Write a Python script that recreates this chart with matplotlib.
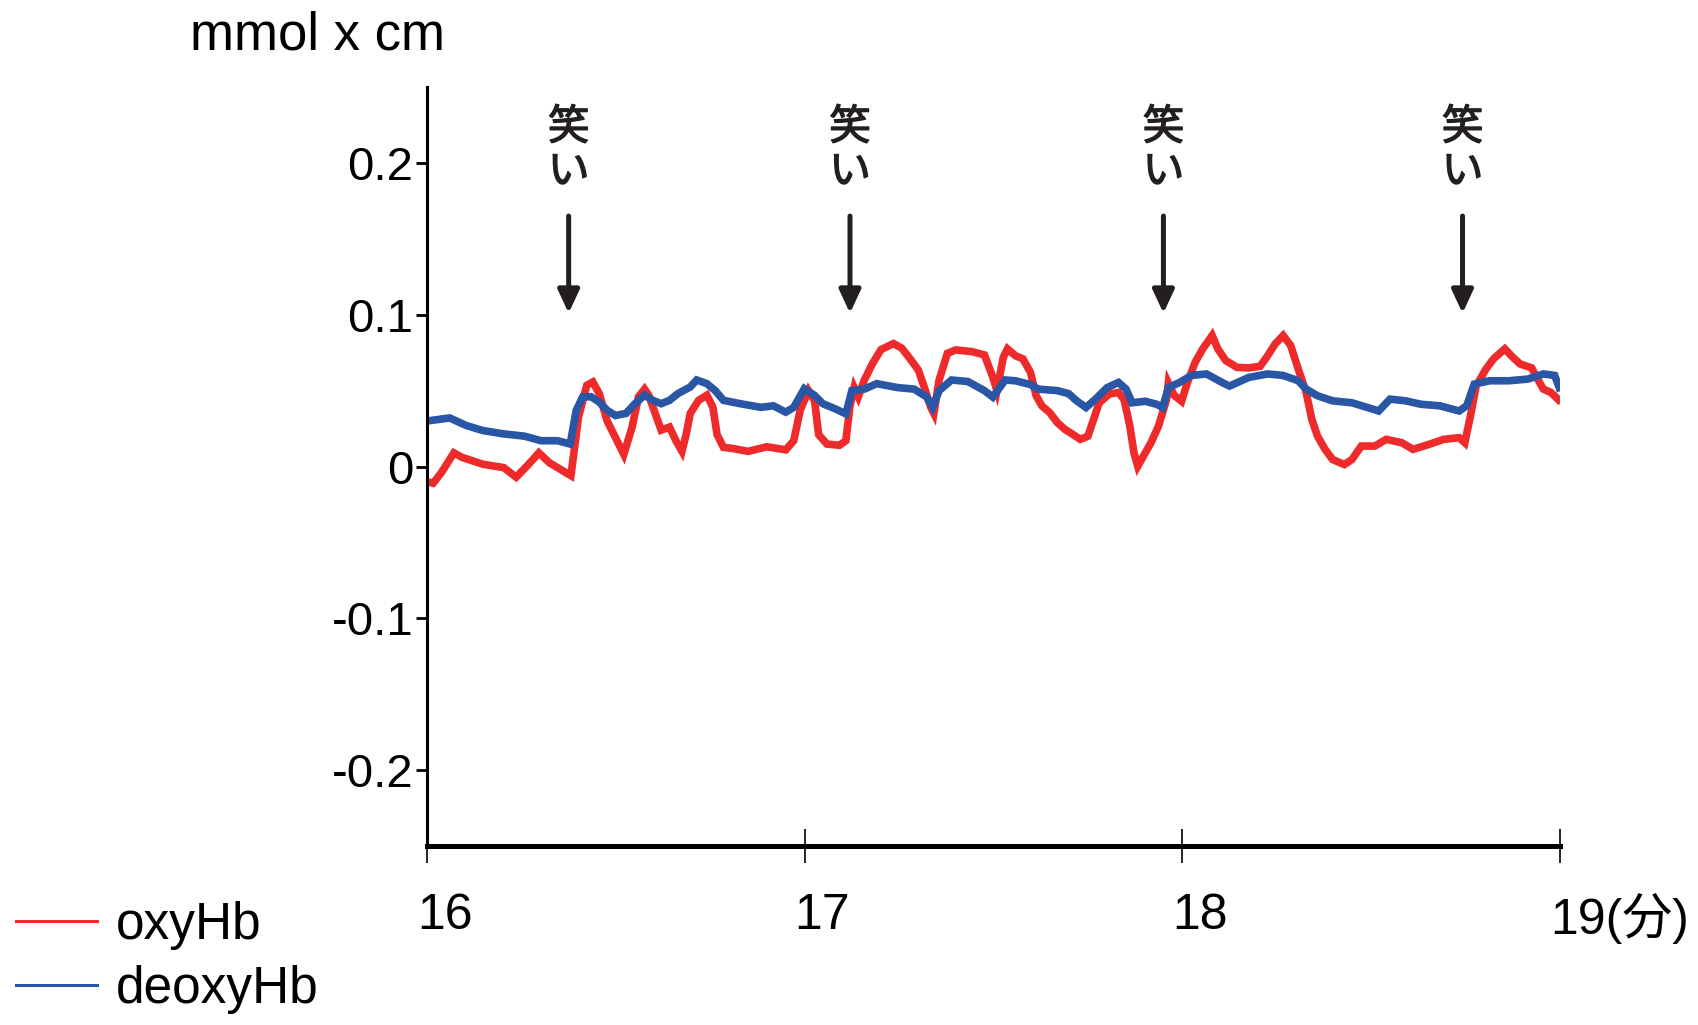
import matplotlib
matplotlib.use("Agg")
import matplotlib.pyplot as plt
import matplotlib.transforms as mtransforms
import matplotlib.patheffects as pe

FAM = ['Liberation Sans', 'Noto Sans CJK JP', 'DejaVu Sans']
plt.rcParams['font.family'] = FAM

# ---- data (minutes, mmol x cm) ----
oxy_t = [16.000, 16.016, 16.038, 16.071, 16.093, 16.148, 16.203, 16.236, 16.269, 16.296,
         16.324, 16.368, 16.381, 16.401, 16.423, 16.439, 16.456, 16.477, 16.499, 16.521,
         16.543, 16.560, 16.576, 16.587, 16.604, 16.620, 16.642, 16.659, 16.675, 16.686,
         16.697, 16.719, 16.741, 16.757, 16.768, 16.785, 16.807, 16.850, 16.900, 16.950,
         16.971, 16.988, 17.010, 17.026, 17.037, 17.059, 17.092, 17.109, 17.120, 17.131,
         17.142, 17.158, 17.180, 17.202, 17.235, 17.257, 17.279, 17.301, 17.317, 17.334,
         17.342, 17.356, 17.378, 17.400, 17.443, 17.476, 17.498, 17.509, 17.526, 17.537,
         17.558, 17.578, 17.598, 17.613, 17.628, 17.649, 17.669, 17.689, 17.710, 17.730,
         17.750, 17.765, 17.780, 17.806, 17.831, 17.846, 17.861, 17.872, 17.882, 17.897,
         17.917, 17.937, 17.958, 17.963, 17.978, 17.998, 18.013, 18.034, 18.054, 18.079,
         18.094, 18.115, 18.145, 18.176, 18.206, 18.226, 18.246, 18.267, 18.287, 18.307,
         18.328, 18.343, 18.358, 18.378, 18.398, 18.429, 18.449, 18.474, 18.510, 18.540,
         18.581, 18.611, 18.652, 18.692, 18.733, 18.748, 18.763, 18.778, 18.804, 18.824,
         18.854, 18.875, 18.895, 18.925, 18.941, 18.956, 18.976, 18.996]
oxy_v = [-0.010, -0.011, -0.004, 0.009, 0.006, 0.0015, -0.0007, -0.007, 0.0015, 0.009,
         0.0025, -0.004, -0.006, 0.0325, 0.0535, 0.0557, 0.048, 0.030, 0.019, 0.008,
         0.026, 0.046, 0.051, 0.047, 0.035, 0.024, 0.026, 0.017, 0.010, 0.021,
         0.035, 0.0436, 0.047, 0.039, 0.021, 0.0126, 0.012, 0.010, 0.013, 0.011,
         0.017, 0.037, 0.050, 0.0436, 0.021, 0.0148, 0.014, 0.017, 0.040, 0.052,
         0.046, 0.057, 0.068, 0.077, 0.081, 0.078, 0.071, 0.0635, 0.052, 0.039,
         0.035, 0.057, 0.0746, 0.0768, 0.0757, 0.0735, 0.059, 0.050, 0.072, 0.0775,
         0.073, 0.0709, 0.062, 0.0466, 0.040, 0.0355, 0.0289, 0.0245, 0.0212, 0.0179,
         0.020, 0.031, 0.042, 0.0477, 0.0488, 0.044, 0.0267, 0.009, 0.0002, 0.0068,
         0.0157, 0.0267, 0.044, 0.055, 0.047, 0.043, 0.055, 0.0687, 0.0775, 0.0863,
         0.0775, 0.0698, 0.0653, 0.065, 0.066, 0.073, 0.0808, 0.0863, 0.0797, 0.0642,
         0.0488, 0.031, 0.020, 0.0113, 0.0046, 0.0013, 0.0046, 0.0135, 0.0135, 0.0179,
         0.0157, 0.0113, 0.0145, 0.0179, 0.019, 0.0157, 0.0333, 0.053, 0.0642, 0.0709,
         0.0775, 0.072, 0.0675, 0.065, 0.0576, 0.051, 0.0488, 0.044]

deoxy_t = [16.000, 16.060, 16.104, 16.148, 16.203, 16.258, 16.302, 16.346, 16.379, 16.395,
           16.412, 16.434, 16.456, 16.477, 16.499, 16.527, 16.549, 16.576, 16.598, 16.620,
           16.642, 16.664, 16.697, 16.714, 16.741, 16.763, 16.785, 16.829, 16.884, 16.917,
           16.950, 16.971, 16.999, 17.026, 17.048, 17.081, 17.109, 17.125, 17.158, 17.191,
           17.246, 17.290, 17.323, 17.339, 17.356, 17.389, 17.432, 17.476, 17.498, 17.531,
           17.558, 17.598, 17.618, 17.669, 17.699, 17.720, 17.745, 17.770, 17.801, 17.831,
           17.851, 17.867, 17.902, 17.932, 17.948, 17.963, 17.993, 18.024, 18.064, 18.105,
           18.125, 18.176, 18.226, 18.267, 18.307, 18.328, 18.358, 18.398, 18.449, 18.490,
           18.520, 18.550, 18.591, 18.632, 18.682, 18.733, 18.753, 18.773, 18.814, 18.865,
           18.915, 18.956, 18.986, 18.998]
deoxy_v = [0.030, 0.032, 0.027, 0.0237, 0.0215, 0.020, 0.017, 0.017, 0.0148, 0.037,
           0.0458, 0.046, 0.0425, 0.037, 0.0336, 0.035, 0.041, 0.047, 0.0436, 0.0414,
           0.0436, 0.048, 0.0524, 0.057, 0.0546, 0.050, 0.0436, 0.0414, 0.039, 0.040,
           0.0358, 0.039, 0.0513, 0.0469, 0.0414, 0.038, 0.0347, 0.050, 0.051, 0.0546,
           0.052, 0.051, 0.0458, 0.039, 0.050, 0.057, 0.056, 0.050, 0.0458, 0.057,
           0.0565, 0.054, 0.051, 0.050, 0.048, 0.0433, 0.0389, 0.0444, 0.052, 0.0554,
           0.051, 0.042, 0.043, 0.041, 0.0389, 0.052, 0.0554, 0.060, 0.061, 0.0554,
           0.053, 0.0587, 0.061, 0.060, 0.0565, 0.051, 0.0466, 0.0433, 0.042, 0.0389,
           0.0366, 0.0444, 0.0433, 0.041, 0.040, 0.0366, 0.040, 0.0543, 0.0565, 0.0565,
           0.0576, 0.061, 0.060, 0.052]

laugh_t = [16.375, 17.12, 17.95, 18.742]
laugh_label = "笑\nい"
x_ticks = [16, 17, 18, 19]
x_ticklabels = ["16", "17", "18", "19(分)"]
y_ticks = [-0.2, -0.1, 0, 0.1, 0.2]
y_ticklabels = ["-0.2", "-0.1", "0", "0.1", "0.2"]
series_names = ["oxyHb", "deoxyHb"]

RED = "#EE2A2B"
BLUE = "#2A56A6"
DARK = "#231F20"

fig = plt.figure(figsize=(16.98, 10.25), dpi=100)
ax = fig.add_axes([0.2515, 0.1746, 0.6672, 0.7405])

l1, = ax.plot(oxy_t, oxy_v, color=RED, lw=5.5, label=series_names[0], solid_joinstyle='miter')
l2, = ax.plot(deoxy_t, deoxy_v, color=BLUE, lw=5.5, label=series_names[1], solid_joinstyle='miter')

ax.set_xlim(16, 19)
ax.set_ylim(-0.25, 0.25)
for s in ['top', 'right']:
    ax.spines[s].set_visible(False)
ax.spines['left'].set_linewidth(2.2)
ax.spines['bottom'].set_linewidth(3.6)

ax.set_yticks(y_ticks)
ax.set_yticklabels(y_ticklabels, fontsize=34, family=FAM)
ax.tick_params(axis='y', direction='out', length=8, width=2, pad=2)

ax.set_xticks(x_ticks)
ax.set_xticklabels(x_ticklabels, fontsize=36, family=FAM, ha='left')
ax.tick_params(axis='x', direction='inout', length=24, width=1.2, pad=22)
off = mtransforms.ScaledTranslation(-10/100, 0, fig.dpi_scale_trans)
for lab in ax.get_xticklabels():
    lab.set_transform(lab.get_transform() + off)

for t in laugh_t:
    ax.text(t, 0.2085, laugh_label, ha='center', va='center', fontsize=30,
            family=['Noto Sans CJK JP'], color=DARK,
            linespacing=1.1, multialignment='center',
            path_effects=[pe.withStroke(linewidth=1.0, foreground=DARK)])
    ax.annotate('', xy=(t, 0.101), xytext=(t, 0.165),
                arrowprops=dict(arrowstyle='-|>,head_length=1.4,head_width=0.65',
                                color=DARK, lw=3.6, shrinkA=0, shrinkB=0))

fig.text(190/1698, 1-36/1025, "mmol x cm", fontsize=38, ha='left', va='center', family=FAM)

leg = fig.legend(handles=[l1, l2], labels=series_names, loc='upper left',
                 bbox_to_anchor=(0.0094, 0.121), frameon=False,
                 handlelength=1.57, handletextpad=0.38, labelspacing=0.3,
                 borderaxespad=0, borderpad=0, prop={'family': FAM, 'size': 37})
for h in leg.legend_handles:
    h.set_linewidth(2.2)

fig.savefig("out.png", dpi=100)
